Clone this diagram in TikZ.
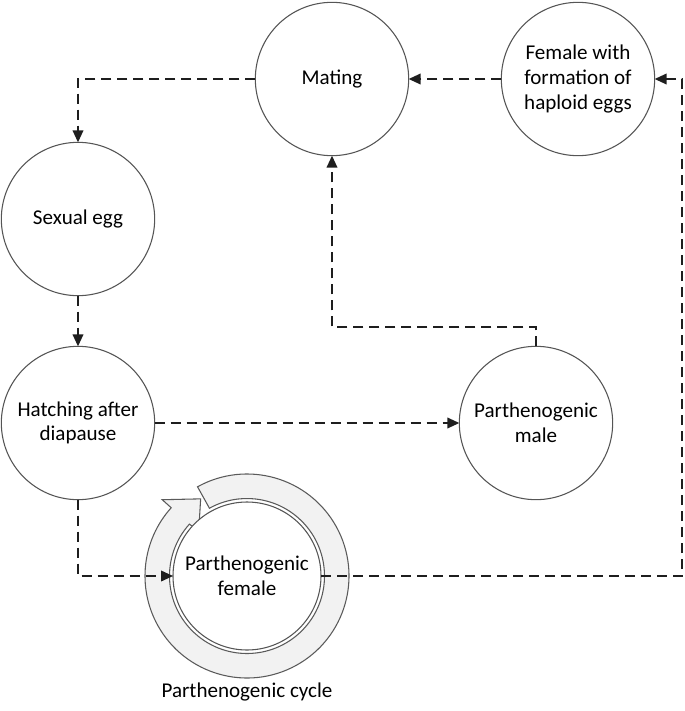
\documentclass[tikz,border=0pt]{standalone}
\usepackage{fontspec}
\setmainfont{Carlito}
\usetikzlibrary{arrows.meta}

\begin{document}
\begin{tikzpicture}[x=0.75pt,y=0.75pt,yscale=-1,xscale=1,
    stage/.style={circle,draw={rgb, 255:red, 85; green, 85; blue, 85},line width=0.8pt,fill=white,minimum size=115pt,inner sep=0pt,outer sep=0pt,align=center,font=\fontsize{15.8}{18.5}\selectfont},
    flow/.style={draw={rgb, 255:red, 30; green, 30; blue, 30},line width=1.25pt,dash pattern=on 7.5pt off 4.5pt,-{Triangle[length=9pt,width=8pt]}}]
    %uncomment if require: \path (0,711); %set diagram left start at 0, and has height of 711
\useasboundingbox (0,0) rectangle (685,711);

%Shape: Circle [id:mating]
\node[stage] (mating) at (332,79) {Mating};
%Shape: Circle [id:haploid]
\node[stage] (haploid) at (578,79) {Female with\\formation of\\haploid eggs};
%Shape: Circle [id:sexegg]
\node[stage] (sexegg) at (78,219) {Sexual egg};
%Shape: Circle [id:hatching]
\node[stage] (hatching) at (78,423) {Hatching after\\diapause};
%Shape: Circle [id:pmale]
\node[stage] (pmale) at (536,423) {Parthenogenic\\male};

%Shape: Circular Arrow [id:cycle]
\begin{scope}[shift={(247,576)},yscale=-1]
\draw  [color={rgb, 255:red, 90; green, 90; blue, 90 }  ,line width=0.8pt ][fill={rgb, 255:red, 242; green, 242; blue, 242 }  ,fill opacity=1 ] (119:102) arc[start angle=119,end angle=-222,radius=102] -- (138:114) -- (121:90) -- (137:66) -- (138:77.5) arc[start angle=-222,end angle=119,radius=77.5] -- cycle ;
\end{scope}
%Shape: Circle [id:pfemale]
\node[stage,minimum size=111pt] (pfemale) at (247,576) {Parthenogenic\\female};

% Text Node
\node[font=\fontsize{15.8}{18.5}\selectfont] (cyclelabel) at (247,692) {Parthenogenic cycle};

%Connectors
\draw[flow] (haploid.west) -- (mating.east);
\draw[flow] (mating.west) -| (sexegg.north);
\draw[flow] (sexegg.south) -- (hatching.north);
\draw[flow] (hatching.east) -- (pmale.west);
\draw[flow] (hatching.south) |- (pfemale.west);
\coordinate (malebend) at (536,327);
\draw[flow] (pmale.north) -- (malebend) -| (mating.south);
\coordinate (rightbend) at (682,576);
\draw[flow] (pfemale.east) -- (rightbend) |- (haploid.east);

\end{tikzpicture}
\end{document}
